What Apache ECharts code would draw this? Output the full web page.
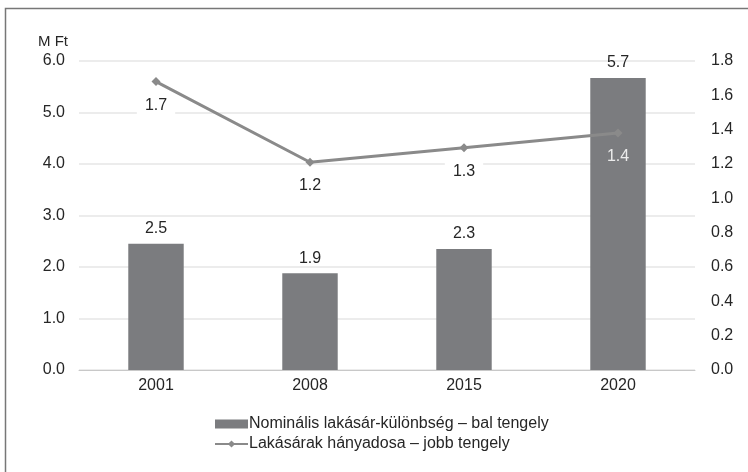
<!DOCTYPE html>
<html><head><meta charset="utf-8">
<script src="https://cdn.jsdelivr.net/npm/echarts@6/dist/echarts.min.js"></script>
<style>html,body{margin:0;padding:0;background:#fff}#c{width:748px;height:472px}</style>
</head><body><div id="c"></div>
<script>
var categories = ['2001', '2008', '2015', '2020'];
var barValues = [2.45, 1.88, 2.35, 5.67];
var barLabels = ['2.5', '1.9', '2.3', '5.7'];
var lineValues = [1.68, 1.21, 1.295, 1.38];
var lineLabels = ['1.7', '1.2', '1.3', '1.4'];
var barName = 'Nominális lakásár-különbség – bal tengely';
var lineName = 'Lakásárak hányadosa – jobb tengely';

var font = 'Liberation Sans, Arial, sans-serif';
var txt = '#262626';
var chart = echarts.init(document.getElementById('c'));
chart.setOption({
  animation: false,
  textStyle: {fontFamily: font},
  graphic: [{type: 'rect', shape: {x: 5.5, y: 8.5, width: 900, height: 600},
    style: {fill: 'none', stroke: '#777', lineWidth: 1.5}, z: 100}],
  grid: {left: 79, right: 53, top: 61, bottom: 102, containLabel: false},
  legend: {
    orient: 'vertical', left: 209, top: 411, itemGap: 4, itemWidth: 33, itemHeight: 9,
    textStyle: {fontSize: 16, color: txt, fontFamily: font, padding: [0,0,0,-4]},
    data: [
      {name: barName, icon: 'rect'},
      {name: lineName}
    ]
  },
  xAxis: {
    type: 'category', data: categories,
    axisLine: {lineStyle: {color: '#c8c8c8', width: 1}},
    axisTick: {show: false},
    axisLabel: {fontSize: 16, color: txt, margin: 8, fontFamily: font}
  },
  yAxis: [{
    type: 'value', min: 0, max: 6, interval: 1,
    name: 'M Ft', nameGap: 12, nameTextStyle: {fontSize: 15, color: txt, align: 'right', padding: [0, 11, 0, 0]},
    axisLabel: {fontSize: 16, color: txt, margin: 14, formatter: function(v){return v.toFixed(1);}},
    axisLine: {show: false}, axisTick: {show: false},
    splitLine: {lineStyle: {color: '#e6e6e6', width: 1.5}}
  }, {
    type: 'value', min: 0, max: 1.8, interval: 0.2,
    axisLabel: {fontSize: 16, color: txt, margin: 16, formatter: function(v){return v.toFixed(1);}},
    axisLine: {show: false}, axisTick: {show: false},
    splitLine: {show: false}
  }],
  series: [{
    name: barName, type: 'bar', yAxisIndex: 0, barWidth: '36%',
    itemStyle: {color: '#7b7c7f'},
    data: barValues,
    label: {show: true, position: 'top', distance: 7, fontSize: 16, color: txt,
      formatter: function(p){return barLabels[p.dataIndex];}}
  }, {
    name: lineName, type: 'line', yAxisIndex: 1,
    symbol: 'diamond', symbolSize: 9,
    lineStyle: {color: '#8a8a8a', width: 3},
    itemStyle: {color: '#8a8a8a'},
    data: lineValues.map(function(v, i){
      var d = {value: v};
      if (i === 3) d.label = {color: '#ececec', backgroundColor: 'transparent'};
      return d;
    }),
    label: {show: true, position: 'bottom', distance: 10, fontSize: 16, color: txt,
      backgroundColor: '#fff', padding: [1, 8],
      formatter: function(p){return lineLabels[p.dataIndex];}},
    z: 5
  }]
});
</script></body></html>
